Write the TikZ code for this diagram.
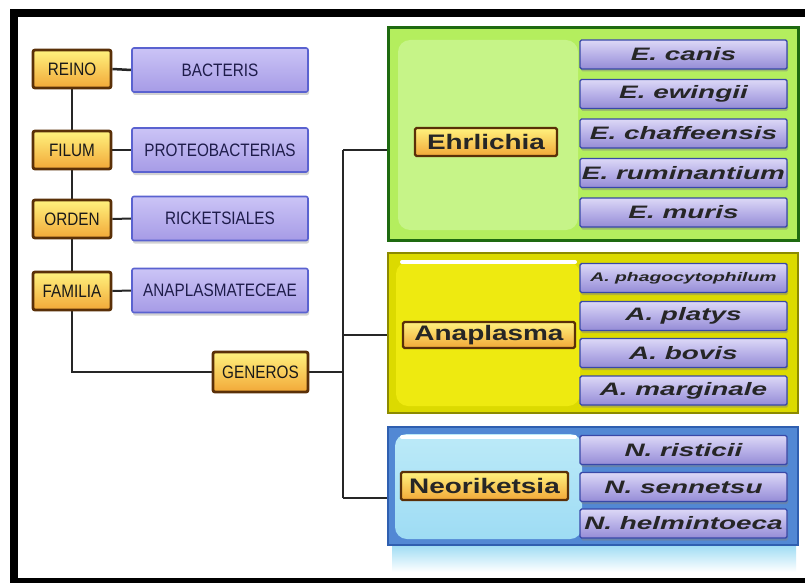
\documentclass[tikz,border=0pt]{standalone}
\usepackage{fontspec}
\usepackage{graphicx}
\setmainfont{Liberation Sans}
\usetikzlibrary{shadows}
\pgfdeclarelayer{bg}
\pgfdeclarelayer{lines}
\pgfsetlayers{bg,lines,main}
\definecolor{rankt}{HTML}{FFF27E}
\definecolor{rankb}{HTML}{F2A838}
\definecolor{rankbd}{HTML}{5A3008}
\definecolor{taxt}{HTML}{CBC4F6}
\definecolor{taxb}{HTML}{A69BE6}
\definecolor{taxbd}{HTML}{5A62D0}
\definecolor{taxtx}{HTML}{1E1C4A}
\definecolor{spt}{HTML}{DCD8F6}
\definecolor{spm}{HTML}{B8B1E8}
\definecolor{spb}{HTML}{958CD6}
\definecolor{spbd}{HTML}{3848A8}
\definecolor{grnbd}{HTML}{1E6A10}
\definecolor{grnf}{HTML}{B4EE5E}
\definecolor{grnin}{HTML}{C6F488}
\definecolor{yelbd}{HTML}{8C8A00}
\definecolor{yelf}{HTML}{DCDA00}
\definecolor{yelin}{HTML}{EEEA10}
\definecolor{blubd}{HTML}{2F5FB0}
\definecolor{bluf}{HTML}{5288D4}
\definecolor{bluint}{HTML}{BCEAF8}
\definecolor{bluinb}{HTML}{9EDCF4}
\newcommand{\stretchtxt}[2]{\scalebox{#1}[1]{#2}}
\newcommand{\narrow}[1]{\scalebox{0.85}[1]{#1}}
\begin{document}
\begin{tikzpicture}[x=1pt,y=-1pt,
  rank/.style={draw=rankbd, line width=2.8pt, rounded corners=2pt,
    top color=rankt, bottom color=rankb, minimum width=78pt, minimum height=38pt,
    inner sep=0pt, font=\fontsize{18}{20}\selectfont, text=black!90},
  taxon/.style={draw=taxbd, line width=1.6pt, rounded corners=2pt,
    top color=taxt, bottom color=taxb, minimum width=176pt, minimum height=44pt,
    inner sep=0pt, font=\fontsize{18}{20}\selectfont, text=taxtx,
    drop shadow={shadow xshift=1pt, shadow yshift=-3pt, opacity=0.35}},
  genus/.style={draw=rankbd, line width=2.2pt, rounded corners=1.5pt,
    top color=rankt, bottom color=rankb, minimum height=27pt,
    inner sep=0pt, font=\fontsize{21}{24}\selectfont\bfseries, text=black!85},
  species/.style={draw=spbd, line width=1.4pt, rounded corners=1.5pt,
    top color=spt, bottom color=spb, middle color=spm,
    minimum width=207pt, minimum height=29pt, inner sep=0pt,
    font=\fontsize{18}{20}\selectfont\bfseries\itshape, text=black!85,
    drop shadow={shadow xshift=1pt, shadow yshift=-2.5pt, opacity=0.45}},
  conn/.style={line width=2pt, black!85},
  panel/.style={rounded corners=12pt},
  gbox/.style={inner sep=0pt, minimum width=410pt}
]
\begin{pgfonlayer}{bg}
\useasboundingbox (0,0) rectangle (805,583);
\fill[white] (0,0) rectangle (805,583);
% black frame
\fill[black] (10,9) rectangle (805,17);
\fill[black] (10,9) rectangle (18,583);
\fill[black] (10,578) rectangle (805,583);
\end{pgfonlayer}

% ---- coloured genus panels ----
\node[gbox, draw=grnbd, line width=3pt, fill=grnf, minimum height=212pt] (green) at (593,134) {};
\fill[grnin, panel] (398,40) rectangle (578,230);
\node[gbox, draw=yelbd, line width=1.5pt, fill=yelf, minimum height=160pt] (yellow) at (593,333) {};
\fill[yelin, panel] (396,262) rectangle (580,406);
\draw[white, line width=4pt, line cap=round] (402,262) -- (575,262);
\shade[top color=bluinb, bottom color=white] (392,545) rectangle (796,572);
\node[gbox, draw=blubd, line width=2pt, fill=bluf, minimum height=118pt] (blue) at (593,486) {};
\shade[panel, top color=bluint, bottom color=bluinb] (395,434) rectangle (582,539);
\draw[white, line width=4pt, line cap=round] (402,437) -- (575,437);

% ---- rank boxes ----
\node[rank] (reino) at (72,69) {\narrow{REINO}};
\node[rank] (filum) at (72,150) {\narrow{FILUM}};
\node[rank] (orden) at (72,219) {\narrow{ORDEN}};
\node[rank] (familia) at (72,291) {\narrow{FAMILIA}};
\node[rank, minimum width=95pt, minimum height=40pt] (generos) at (260.5,372) {\narrow{GENEROS}};

% ---- taxon boxes ----
\node[taxon] (bacteris) at (220,70) {\narrow{BACTERIS}};
\node[taxon] (proteo) at (220,150) {\narrow{PROTEOBACTERIAS}};
\node[taxon] (ricket) at (220,218.5) {\narrow{RICKETSIALES}};
\node[taxon] (anapl) at (220,290.5) {\narrow{ANAPLASMATECEAE}};

% ---- genus labels ----
\node[genus, minimum width=142pt, minimum height=28pt] (ehr) at (486,142) {\stretchtxt{1.33}{Ehrlichia}};
\node[genus, minimum width=172pt, minimum height=26pt] (ana) at (489,335) {\stretchtxt{1.33}{Anaplasma}};
\node[genus, minimum width=167pt, minimum height=28pt] (neo) at (484.5,486) {\stretchtxt{1.33}{Neoriketsia}};

% ---- species ----
\node[species] (e1) at (683.5,54.5) {\stretchtxt{1.55}{E. canis}};
\node[species] (e2) at (683.5,94) {\stretchtxt{1.55}{E. ewingii}};
\node[species] (e3) at (683.5,133.5) {\stretchtxt{1.55}{E. chaffeensis}};
\node[species] (e4) at (683.5,173) {\stretchtxt{1.55}{E. ruminantium}};
\node[species] (e5) at (683.5,212.5) {\stretchtxt{1.55}{E. muris}};
\node[species] (a1) at (683.5,278) {\fontsize{12.5}{14}\selectfont\stretchtxt{1.55}{A. phagocytophilum}};
\node[species] (a2) at (683.5,316) {\stretchtxt{1.55}{A. platys}};
\node[species] (a3) at (683.5,353) {\stretchtxt{1.55}{A. bovis}};
\node[species] (a4) at (683.5,390.5) {\stretchtxt{1.55}{A. marginale}};
\node[species] (n1) at (683.5,450) {\stretchtxt{1.55}{N. risticii}};
\node[species] (n2) at (683.5,487) {\stretchtxt{1.55}{N. sennetsu}};
\node[species] (n3) at (683.5,523.5) {\stretchtxt{1.55}{N. helmintoeca}};

% ---- connectors (on layer behind the boxes) ----
\coordinate (j) at (343,372);
\coordinate (jtop) at (343,150);
\coordinate (jbot) at (343,498);
\begin{pgfonlayer}{lines}
\draw[conn] (reino.center) -- (familia.center |- generos.west) -- (generos.west);
\draw[conn] (generos.east) -- (j);
\draw[conn] (jtop) -- (jbot);
\draw[conn] (jtop) -- (jtop -| green.west);
\draw[conn] (j |- ana.west) -- (ana.west -| yellow.west);
\draw[conn] (jbot) -- (jbot -| blue.west);
\draw[conn, line width=2.5pt] (reino.east) -- (bacteris.west);
\draw[conn] (filum.east) -- (proteo.west);
\draw[conn] (orden.east) -- (ricket.west);
\draw[conn] (familia.east) -- (anapl.west);
\end{pgfonlayer}
\end{tikzpicture}
\end{document}
